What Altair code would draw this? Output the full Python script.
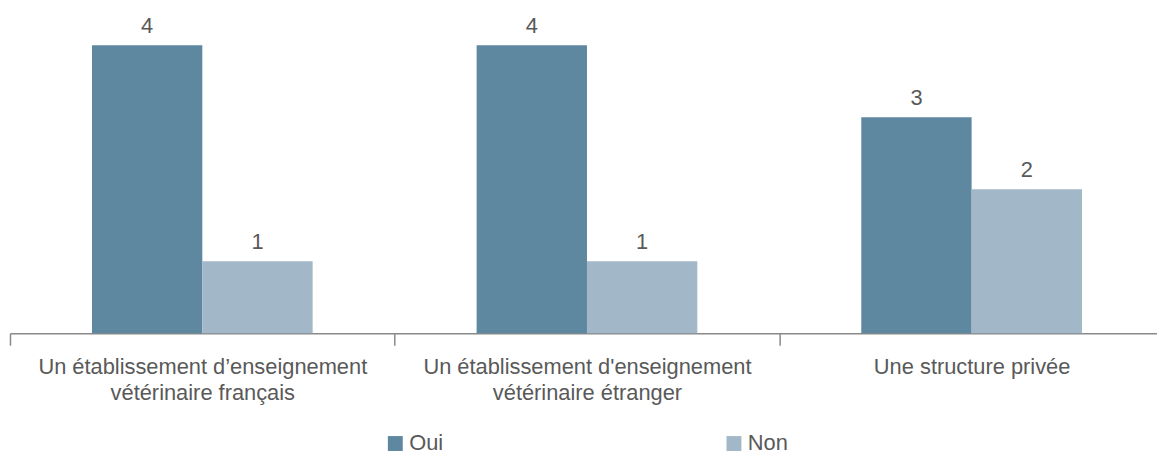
import altair as alt
import pandas as pd

categories = ["Un établissement d’enseignement|vétérinaire français",
              "Un établissement d'enseignement|vétérinaire étranger",
              "Une structure privée"]
series = ["Oui", "Non"]
oui = [4, 4, 3]
non = [1, 1, 2]
colors = ["#5E87A0", "#A2B7C7"]

rows = []
for c, o, n in zip(categories, oui, non):
    rows.append({"cat": c, "serie": "Oui", "val": o})
    rows.append({"cat": c, "serie": "Non", "val": n})
df = pd.DataFrame(rows)

FONT = "Liberation Sans, Arial, sans-serif"
TXT = "#595959"

x = alt.X("cat:N", sort=categories, title=None,
          scale=alt.Scale(range=[0, 1162], paddingInner=0, paddingOuter=0),
          axis=alt.Axis(labelExpr="split(datum.label, '|')", labelAngle=0,
                        labelFontSize=22, labelFont=FONT, labelColor=TXT,
                        labelLimit=600,
                        labelLineHeight=27, labelPadding=11, labelBaseline="top",
                        tickBand="extent", tickSize=12, tickColor="#898989",
                        domainColor="#898989", domainWidth=1.5, tickWidth=1.5))
xo = alt.XOffset("serie:N", sort=series,
                 scale=alt.Scale(paddingInner=0, paddingOuter=0.743))
y = alt.Y("val:Q", scale=alt.Scale(domain=[0, 4], nice=False), axis=None, title=None)

bars = alt.Chart(df).mark_bar().encode(
    x=x, xOffset=xo, y=y,
    color=alt.Color("serie:N", sort=series,
                    scale=alt.Scale(domain=series, range=colors),
                    legend=alt.Legend(title=None, orient="none", direction="horizontal",
                                      legendX=377, legendY=390, columnPadding=281,
                                      symbolType="square", symbolSize=225,
                                      symbolStrokeWidth=0, labelFontSize=22,
                                      labelFont=FONT, labelColor=TXT, labelOffset=3)),
)
labels = alt.Chart(df).mark_text(baseline="alphabetic", dy=-12, fontSize=22,
                                 font=FONT, color=TXT).encode(
    x=x, xOffset=xo, y=y, text="val:Q")

chart = alt.layer(bars, labels).properties(
    width=1155, height=290,
    autosize=alt.AutoSizeParams(type="none"),
    padding={"left": 2, "top": 36, "right": 0, "bottom": 121},
).configure_view(stroke=None)

chart.save("out.html", embed_options={"renderer": "svg", "actions": False})
